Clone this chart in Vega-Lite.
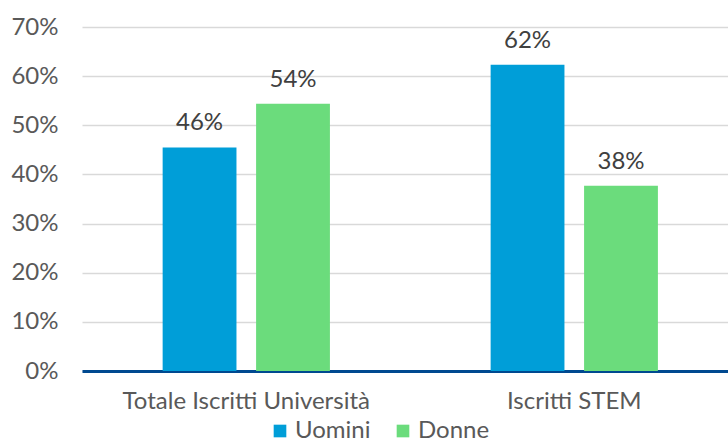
{
  "$schema": "https://vega.github.io/schema/vega-lite/v6.json",
  "width": 646,
  "height": 344,
  "autosize": "none",
  "padding": {"left": 82, "top": 27, "right": 0, "bottom": 71},
  "background": "white",
  "config": {
    "font": "Lato",
    "view": {"stroke": null}
  },
  "data": {
    "values": [
      {"categoria": "Totale Iscritti Università", "genere": "Uomini", "valore": 0.455, "etichetta": "46%"},
      {"categoria": "Totale Iscritti Università", "genere": "Donne", "valore": 0.544, "etichetta": "54%"},
      {"categoria": "Iscritti STEM", "genere": "Uomini", "valore": 0.623, "etichetta": "62%"},
      {"categoria": "Iscritti STEM", "genere": "Donne", "valore": 0.377, "etichetta": "38%"}
    ]
  },
  "encoding": {
    "x": {
      "field": "categoria",
      "type": "nominal",
      "sort": ["Totale Iscritti Università", "Iscritti STEM"],
      "title": null,
      "scale": {"paddingInner": 0.49, "paddingOuter": 0.2298, "align": 0.535},
      "axis": {
        "labelAngle": 0,
        "labelFontSize": 24,
        "labelColor": "#595959",
        "labelPadding": 18,
        "labelLimit": 0,
        "ticks": false,
        "domainColor": "#004990",
        "domainWidth": 3,
        "grid": false
      }
    },
    "xOffset": {
      "field": "genere",
      "type": "nominal",
      "sort": ["Uomini", "Donne"],
      "scale": {"paddingInner": 0.21, "paddingOuter": 0}
    },
    "y": {
      "field": "valore",
      "type": "quantitative",
      "title": null,
      "scale": {"domain": [0, 0.7], "nice": false},
      "axis": {
        "values": [0, 0.1, 0.2, 0.3, 0.4, 0.5, 0.6, 0.7],
        "format": ".0%",
        "labelFontSize": 24,
        "labelColor": "#595959",
        "labelPadding": 24,
        "ticks": false,
        "domain": false,
        "gridColor": "#d9d9d9",
        "gridWidth": 1.5
      }
    }
  },
  "layer": [
    {
      "mark": {"type": "bar"},
      "encoding": {
        "color": {
          "field": "genere",
          "type": "nominal",
          "sort": ["Uomini", "Donne"],
          "scale": {"domain": ["Uomini", "Donne"], "range": ["#009ED8", "#6BDC7C"]},
          "legend": {
            "title": null,
            "orient": "none",
            "direction": "horizontal",
            "legendX": 186,
            "legendY": 392,
            "symbolType": "square",
            "symbolSize": 160,
            "symbolStrokeWidth": 0,
            "symbolOpacity": 1,
            "labelFontSize": 24,
            "labelColor": "#595959",
            "labelOffset": 3,
            "labelLimit": 0,
            "columnPadding": 20
          }
        }
      }
    },
    {
      "mark": {"type": "text", "baseline": "bottom", "dy": -12, "fontSize": 24, "color": "#404040"},
      "encoding": {
        "text": {"field": "etichetta"}
      }
    }
  ]
}
